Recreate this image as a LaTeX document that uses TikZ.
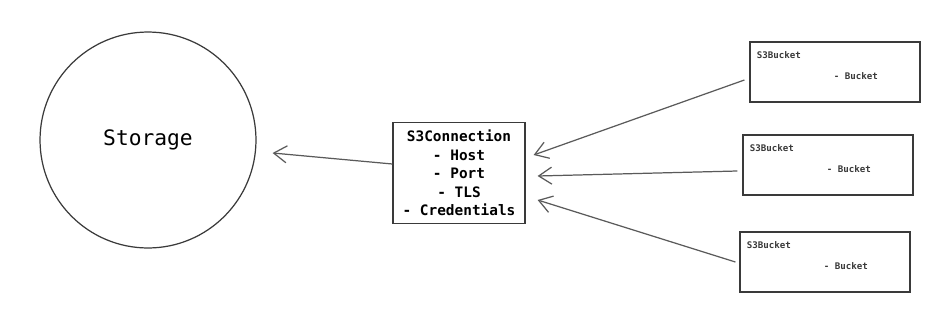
\documentclass[tikz,border=0pt]{standalone}
\usepackage{fontspec}
\setmonofont{DejaVu Sans Mono}
\usepackage{xcolor}
\usetikzlibrary{
    arrows.meta,
    positioning
}
\definecolor{inkgray}{HTML}{3A3A3A}
\definecolor{arrowgray}{HTML}{5A5A5A}

\begin{document}
\begin{tikzpicture}[
    x=0.02cm, y=-0.02cm,
    box/.style={rectangle, draw=inkgray, line width=0.7pt, inner sep=0pt},
    bucketbox/.style={box, minimum width=3.4cm, minimum height=1.2cm},
    smalltxt/.style={font=\ttfamily\bfseries\fontsize{5.2}{6.5}\selectfont, text=inkgray, inner sep=0pt},
    arr/.style={draw=arrowgray, line width=0.7pt, -{Straight Barb[length=2.6mm, width=3.4mm]}},
]
    \useasboundingbox (0,0) rectangle (952,328);

    % Storage
    \node[circle, draw=inkgray, line width=0.7pt, minimum size=4.32cm, inner sep=0pt,
          font=\ttfamily\fontsize{12.1}{14}\selectfont] (storage) at (148,140) {Storage};

    % S3Connection
    \node[box, minimum width=2.64cm, minimum height=2.02cm, align=center,
          font=\ttfamily\bfseries\fontsize{8.2}{10.5}\selectfont] (conn) at (459,173)
          {S3Connection\\- Host\\- Port\\- TLS\\- Credentials};

    % S3Bucket boxes
    \node[bucketbox] (bkt1) at (835,72) {};
    \node[bucketbox] (bkt2) at (828,165) {};
    \node[bucketbox] (bkt3) at (825,262) {};

    \foreach \b in {bkt1, bkt2, bkt3} {
        \node[smalltxt, anchor=north west] at ([xshift=0.14cm, yshift=-0.2cm]\b.north west) {S3Bucket};
        \node[smalltxt, anchor=west] at ([xshift=1.68cm, yshift=-0.08cm]\b.west) {- Bucket};
    }

    % Arrows
    \draw[arr] ([yshift=0.18cm]conn.west) -- ([xshift=0.32cm, yshift=-0.26cm]storage.east);
    \draw[arr] ([xshift=-0.1cm, yshift=-0.16cm]bkt1.west) -- ([xshift=0.16cm, yshift=0.36cm]conn.east);
    \draw[arr] ([xshift=-0.1cm, yshift=-0.12cm]bkt2.west) -- ([xshift=0.24cm, yshift=-0.06cm]conn.east);
    \draw[arr] ([xshift=-0.08cm]bkt3.west) -- ([xshift=0.24cm, yshift=-0.54cm]conn.east);

\end{tikzpicture}
\end{document}
